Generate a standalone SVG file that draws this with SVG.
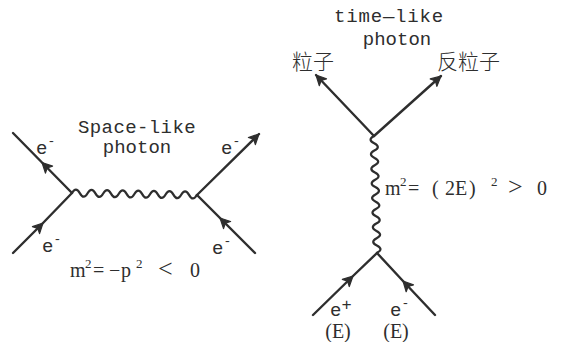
<svg xmlns="http://www.w3.org/2000/svg" width="563" height="342" viewBox="0 0 563 342">
<style>
.ln{fill:none;stroke:#2e2e2e;stroke-width:2.4;stroke-linecap:round}
.wv{fill:none;stroke:#2e2e2e;stroke-width:2.2}
.t{font-family:"Liberation Mono","DejaVu Sans Mono",monospace;font-size:19px;fill:#2e2e2e}
.s{font-size:13px}
.cjk{font-family:"Noto Sans CJK SC","Noto Sans CJK JP",sans-serif;font-size:21px;font-weight:300;fill:#2e2e2e}
.f{font-family:"Liberation Serif","DejaVu Serif",serif;font-size:20px;fill:#2e2e2e}
</style>
<defs>
<marker id="ah" markerUnits="userSpaceOnUse" markerWidth="16" markerHeight="16" refX="0" refY="0" viewBox="-12 -8 14 16" orient="auto">
<path d="M-10,-5 L0,0 L-10,5 L-7.5,0 Z" fill="#2e2e2e" stroke="#2e2e2e" stroke-width="1.2" stroke-linejoin="round"/>
</marker>
</defs>
<rect width="563" height="342" fill="#fff"/>
<g id="connectors">
<path class="ln" d="M72,193 L42,162.5 L13,133" marker-mid="url(#ah)"/>
<path class="ln" d="M13,253 L43,223 L72,193" marker-mid="url(#ah)"/>
<path class="ln" d="M197,195 L259,134" marker-end="url(#ah)"/>
<path class="ln" d="M255,253 L220,218 L197,195" marker-mid="url(#ah)"/>
<path class="wv" d="M72,193 q3.9,-7 7.8,0.125 t7.8,0.125 t7.8,0.125 t7.8,0.125 t7.8,0.125 t7.8,0.125 t7.8,0.125 t7.8,0.125 t7.8,0.125 t7.8,0.125 t7.8,0.125 t7.8,0.125 t7.8,0.125 t7.8,0.125 t7.8,0.125 t7.8,0.125"/>
<path class="ln" d="M374,136 L316,75" marker-end="url(#ah)"/>
<path class="ln" d="M374,136 L441,76" marker-end="url(#ah)"/>
<path class="wv" d="M374,136 q-7,3.65 0.19,7.3 t0.19,7.3 t0.19,7.3 t0.19,7.3 t0.19,7.3 t0.19,7.3 t0.19,7.3 t0.19,7.3 t0.19,7.3 t0.19,7.3 t0.19,7.3 t0.19,7.3 t0.19,7.3 t0.19,7.3 t0.19,7.3 t0.19,7.3"/>
<path class="ln" d="M313,315 L353,276 L377,253" marker-mid="url(#ah)"/>
<path class="ln" d="M435,315 L403,281 L377,253" marker-mid="url(#ah)"/>
</g>
<g id="left-labels">
<text class="t" x="137" y="133" text-anchor="middle" letter-spacing="0.4">Space-like</text>
<text class="t" x="137" y="153" text-anchor="middle" letter-spacing="0">photon</text>
<text class="t" x="36" y="154">e<tspan class="s" dy="-9">-</tspan></text>
<text class="t" x="221" y="154">e<tspan class="s" dy="-9">-</tspan></text>
<text class="t" x="42" y="252">e<tspan class="s" dy="-9">-</tspan></text>
<text class="t" x="212" y="254">e<tspan class="s" dy="-9">-</tspan></text>
<text class="f" y="277"><tspan x="70">m</tspan><tspan x="85" dy="-9" font-size="13">2</tspan><tspan x="93" dy="9">=</tspan><tspan x="109">−</tspan><tspan x="121">p</tspan><tspan x="136" dy="-9" font-size="13">2</tspan><tspan x="158" dy="9" font-size="26">&lt;</tspan><tspan x="190">0</tspan></text>
</g>
<g id="right-labels">
<text class="t" x="389" y="22" text-anchor="middle" letter-spacing="0.8">time—like</text>
<text class="t" x="397" y="45" text-anchor="middle" letter-spacing="0">photon</text>
<text class="cjk" x="292" y="69">粒子</text>
<text class="cjk" x="437" y="69">反粒子</text>
<text class="f" y="195"><tspan x="385">m</tspan><tspan x="400" dy="-9" font-size="13">2</tspan><tspan x="408" dy="9">=</tspan><tspan x="432">(</tspan><tspan x="445">2</tspan><tspan x="455">E</tspan><tspan x="469">)</tspan><tspan x="491" dy="-9" font-size="13">2</tspan><tspan x="508" dy="9" font-size="26">&gt;</tspan><tspan x="537">0</tspan></text>
<text class="t" x="330" y="316">e<tspan dy="-6" font-size="17">+</tspan></text>
<text class="t" x="390" y="316">e<tspan class="s" dy="-9">-</tspan></text>
<text class="f" x="338" y="338" text-anchor="middle" font-size="16">(E)</text>
<text class="f" x="396" y="338" text-anchor="middle" font-size="16">(E)</text>
</g>
</svg>
